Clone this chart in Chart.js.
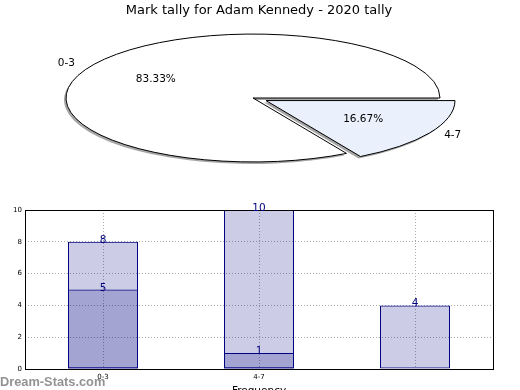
<!DOCTYPE html>
<html>
<head>
<meta charset="utf-8">
<title>Mark tally for Adam Kennedy - 2020 tally</title>
<script src="https://cdn.jsdelivr.net/npm/chart.js@4.4.1/dist/chart.umd.min.js"></script>
<style>
  html, body { margin: 0; padding: 0; background: #fff; overflow: hidden; }
  #wrap { position: relative; width: 520px; height: 390px; overflow: hidden; }
  #pie { position: absolute; left: 0; top: 0; }
  #bars { position: absolute; left: 0; top: 200px; }
  #mark { position: absolute; left: 0; top: 374px; line-height: 1; font: bold 12.8px "Liberation Sans", sans-serif; color: rgba(110, 110, 110, 0.75); }
</style>
</head>
<body>
<div id="wrap">
  <canvas id="pie" width="520" height="200"></canvas>
  <canvas id="bars" width="520" height="200"></canvas>
  <div id="mark">Dream-Stats.com</div>
</div>
<script>
// pie data
const pieLabels = ['0-3', '4-7'];
const pieValues = [5, 1];
const pieColors = ['#ffffff', '#eaf0fc'];

// bar data
const categories = ['0-3', '4-7', ''];
const lightSeries = [8, 10, 4];
const darkSeries = [5, 1, null];

Chart.defaults.font.family = '"DejaVu Sans", sans-serif';
Chart.defaults.color = '#000';

const PIE_K = 0.342;   // vertical squash of the pie
const PIE_SHIFT = -6;  // pie sits a bit left of the title

function squash(ctx, cy) {
  ctx.translate(PIE_SHIFT, cy);
  ctx.scale(1, PIE_K);
  ctx.translate(0, -cy);
}

// same geometry the arc element uses when it draws itself
function wedge(a) {
  const off = (a.options.offset || 0) / 4;
  const mid = (a.startAngle + a.endAngle) / 2;
  const fix = 1 - Math.sin(Math.min(Math.PI, a.endAngle - a.startAngle));
  return { x: a.x + Math.cos(mid) * off, y: a.y + Math.sin(mid) * off, r: a.outerRadius + off * fix, mid: mid };
}

function wedgePath(ctx, a) {
  const w = wedge(a);
  ctx.beginPath();
  ctx.moveTo(w.x, w.y);
  ctx.arc(w.x, w.y, w.r, a.startAngle, a.endAngle);
  ctx.closePath();
}

const squashPie = {
  id: 'squashPie',
  beforeDatasetsDraw(chart) {
    const ctx = chart.ctx;
    const arcs = chart.getDatasetMeta(0).data;
    const cy = arcs[0].y;
    // shadow under the wedges
    ctx.save();
    ctx.translate(-2, 2);
    squash(ctx, cy);
    ctx.fillStyle = 'rgba(77, 77, 77, 0.5)';
    arcs.forEach(a => { wedgePath(ctx, a); ctx.fill(); });
    ctx.restore();
    ctx.save();
    squash(ctx, cy);
  },
  afterDatasetsDraw(chart) {
    const ctx = chart.ctx;
    ctx.restore();
    const arcs = chart.getDatasetMeta(0).data;
    const cy = arcs[0].y;
    ctx.save();
    ctx.lineWidth = 1;
    ctx.strokeStyle = '#000';
    arcs.forEach(a => {
      ctx.save();
      squash(ctx, cy);
      wedgePath(ctx, a);
      ctx.restore();
      ctx.stroke();
    });
    ctx.restore();
  },
  afterDraw(chart) {
    const ctx = chart.ctx;
    const arcs = chart.getDatasetMeta(0).data;
    const cy = arcs[0].y;
    const total = pieValues.reduce((s, v) => s + v, 0);
    ctx.save();
    ctx.font = '10.5px "DejaVu Sans"';
    ctx.fillStyle = '#000';
    ctx.textBaseline = 'middle';
    arcs.forEach((a, i) => {
      const w = wedge(a);
      const r = a.outerRadius;
      const at = f => [w.x + Math.cos(w.mid) * r * f + PIE_SHIFT, cy + (w.y + Math.sin(w.mid) * r * f - cy) * PIE_K];
      const p = at(0.6);
      ctx.textAlign = 'center';
      ctx.fillText((pieValues[i] / total * 100).toFixed(2) + '%', p[0], p[1]);
      const l = at(1.1);
      ctx.textAlign = Math.cos(w.mid) < 0 ? 'right' : 'left';
      ctx.fillText(pieLabels[i], l[0], l[1]);
    });
    ctx.restore();
  }
};

new Chart(document.getElementById('pie'), {
  type: 'pie',
  data: {
    labels: pieLabels,
    datasets: [{
      data: pieValues,
      backgroundColor: pieColors,
      borderWidth: 0,
      offset: [0, 60],
      rotation: 150,
      radius: 187,
      clip: false
    }]
  },
  options: {
    responsive: false,
    animation: false,
    devicePixelRatio: 1,
    layout: { padding: { left: 0, right: 2, top: 0, bottom: 28.6 } },
    plugins: {
      legend: { display: false },
      tooltip: { enabled: false },
      title: {
        display: true,
        text: 'Mark tally for Adam Kennedy - 2020 tally',
        font: { size: 13, weight: 'normal' },
        color: '#000',
        padding: { top: 3, bottom: 6 }
      }
    }
  },
  plugins: [squashPie]
});

const frameAndValues = {
  id: 'frameAndValues',
  afterDatasetsDraw(chart) {
    const ctx = chart.ctx;
    const a = chart.chartArea;
    ctx.save();
    ctx.strokeStyle = '#000';
    ctx.lineWidth = 1;
    ctx.strokeRect(a.left + 0.5, a.top + 0.5, a.right - a.left, a.bottom - a.top);
    ctx.font = '10.5px "DejaVu Sans"';
    ctx.fillStyle = '#000080';
    ctx.textAlign = 'center';
    ctx.textBaseline = 'alphabetic';
    chart.data.datasets.forEach((ds, i) => {
      chart.getDatasetMeta(i).data.forEach((bar, j) => {
        const v = ds.data[j];
        if (v == null) return;
        ctx.fillText(String(v), bar.x, bar.y + 1);
      });
    });
    ctx.restore();
  }
};

const barStyle = {
  backgroundColor: 'rgba(0, 0, 128, 0.2)',
  borderColor: '#000080',
  borderWidth: 1,
  borderSkipped: false,
  inflateAmount: 0,
  barThickness: 70
};

new Chart(document.getElementById('bars'), {
  type: 'bar',
  data: {
    labels: categories,
    datasets: [
      Object.assign({ data: lightSeries }, barStyle),
      Object.assign({ data: darkSeries }, barStyle)
    ]
  },
  options: {
    responsive: false,
    animation: false,
    devicePixelRatio: 1,
    layout: { padding: { top: 10, right: 27, left: 0, bottom: 0 } },
    plugins: { legend: { display: false }, tooltip: { enabled: false } },
    scales: {
      x: {
        stacked: true,
        grid: { offset: false, color: '#aaaaaa', drawTicks: false },
        border: { display: false, dash: [1, 2] },
        ticks: { font: { size: 7 }, color: '#000', padding: 4, maxRotation: 0 },
        title: { display: true, text: 'Frequency', font: { size: 10.5 }, color: '#000', padding: { top: 0, bottom: 2.7 } },
        afterFit: s => { s.height = 31; }
      },
      y: {
        stacked: false,
        min: 0,
        max: 10,
        grid: { color: '#aaaaaa', drawTicks: false },
        border: { display: false, dash: [1, 2] },
        ticks: { stepSize: 2, font: { size: 7 }, color: '#000', padding: 3 },
        afterFit: s => { s.width = 25; }
      }
    }
  },
  plugins: [frameAndValues]
});
</script>
</body>
</html>
